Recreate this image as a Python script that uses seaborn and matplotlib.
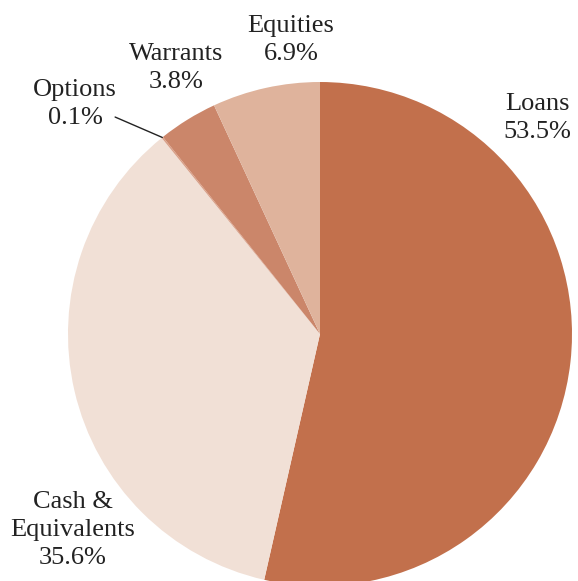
import numpy as np
import matplotlib
matplotlib.use("Agg")
import matplotlib.pyplot as plt
import seaborn as sns

categories = ["Loans", "Cash &\nEquivalents", "Options", "Warrants", "Equities"]
values = [53.5, 35.6, 0.1, 3.8, 6.9]
colors = ["#C2704C", "#F1E0D6", "#D9A088", "#CB866A", "#DFB39C"]
label_xy = [(0.861, 0.857), (-0.980, -0.778), (-0.972, 0.913), (-0.571, 1.056), (-0.115, 1.167)]

sns.set_theme(style="white")
plt.rcParams['font.family'] = ['Liberation Serif', 'DejaVu Serif']

fig = plt.figure(figsize=(5.78, 5.81), dpi=100)
ax = fig.add_axes([0, 0, 1, 1])
wedges, _ = ax.pie(values, colors=colors, startangle=90, counterclock=False,
                   radius=1, center=(0, 0), wedgeprops=dict(linewidth=0))

for w, name, v, (tx, ty) in zip(wedges, categories, values, label_xy):
    ax.text(tx, ty, f"{name}\n{v:.1f}%", ha="center", va="center",
            fontsize=19, color="#222222", linespacing=1.37)
    if name == "Options":
        ang = np.deg2rad((w.theta1 + w.theta2) / 2)
        ax.plot([-0.813, np.cos(ang)], [0.861, np.sin(ang)], color="#222222", lw=1)

ax.set_xlim(-1.2698, 1.0238)
ax.set_ylim(-0.980, 1.3254)
ax.set_aspect("auto")
ax.axis("off")
fig.savefig("out.png", dpi=100)
